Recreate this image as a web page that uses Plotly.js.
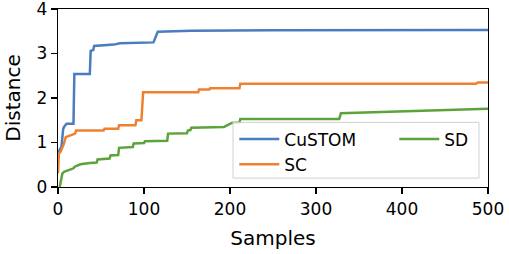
<!DOCTYPE html>
<html>
<head>
<meta charset="utf-8">
<script src="https://cdn.plot.ly/plotly-3.0.1.min.js"></script>
<style>html,body{margin:0;padding:0;background:#fff;}#chart{width:509px;height:254px;}</style>
</head>
<body>
<div id="chart"></div>
<script>
// CuSTOM
const customX = [0, 2, 4, 6, 7, 10, 18, 19, 37, 38, 41, 42, 65, 72, 111, 116, 155, 250, 500];
const customY = [0.78, 0.83, 0.9, 1.3, 1.35, 1.42, 1.42, 2.54, 2.54, 3.06, 3.08, 3.17, 3.2, 3.23, 3.25, 3.49, 3.51, 3.52, 3.53];
// SC
const scX = [0, 1, 3, 7, 9, 14, 20, 21, 53, 54, 70, 71, 90, 91, 97, 99, 163, 164, 176, 177, 211, 212, 486, 488, 500];
const scY = [0.31, 0.75, 0.79, 0.98, 1.12, 1.16, 1.2, 1.27, 1.27, 1.31, 1.31, 1.39, 1.39, 1.5, 1.5, 2.13, 2.13, 2.19, 2.19, 2.22, 2.22, 2.32, 2.32, 2.35, 2.35];
// SD
const sdX = [2, 5, 7, 13, 18, 19, 26, 37, 45, 46, 60, 61, 70, 71, 87, 88, 100, 101, 127, 128, 150, 151, 154, 155, 193, 202, 211, 212, 327, 329, 378, 429, 500];
const sdY = [0, 0.3, 0.34, 0.38, 0.42, 0.45, 0.51, 0.54, 0.55, 0.62, 0.64, 0.71, 0.72, 0.88, 0.9, 0.98, 0.99, 1.03, 1.04, 1.2, 1.21, 1.27, 1.28, 1.33, 1.35, 1.44, 1.45, 1.53, 1.53, 1.66, 1.69, 1.72, 1.76];

const xTicks = [0, 100, 200, 300, 400, 500];
const yTicks = [0, 1, 2, 3, 4];

const tickFont = {family: 'DejaVu Sans', size: 17, color: '#000'};
const titleFont = {family: 'DejaVu Sans', size: 20, color: '#000'};
const legendFont = {family: 'DejaVu Sans', size: 17, color: '#000'};
const colors = {custom: '#4a7cc0', sc: '#ee8130', sd: '#5ca33c'};

const traces = [
  {x: customX, y: customY, name: 'CuSTOM', type: 'scatter', mode: 'lines',
   line: {color: colors.custom, width: 2.5}, legend: 'legend', legendgroup: 'a'},
  {x: scX, y: scY, name: 'SC', type: 'scatter', mode: 'lines',
   line: {color: colors.sc, width: 2.5}, legend: 'legend', legendgroup: 'b'},
  {x: sdX, y: sdY, name: 'SD', type: 'scatter', mode: 'lines',
   line: {color: colors.sd, width: 2.5}, legend: 'legend2', legendgroup: 'c'}
];

const axisCommon = {
  showgrid: false, zeroline: false, showline: true, mirror: true,
  linecolor: '#000', linewidth: 1.3, ticks: 'outside', ticklen: 6, tickwidth: 1.3,
  tickcolor: '#000', tickfont: tickFont, ticklabeloverflow: 'allow'
};

const legendCommon = {
  bgcolor: 'rgba(0,0,0,0)', borderwidth: 0, font: legendFont,
  xref: 'paper', yref: 'paper', xanchor: 'left', yanchor: 'top',
  traceorder: 'grouped', tracegroupgap: 0, itemwidth: 40
};

const layout = {
  width: 509, height: 254,
  margin: {l: 58, r: 21, t: 9, b: 67},
  paper_bgcolor: '#fff', plot_bgcolor: '#fff',
  font: tickFont,
  showlegend: true,
  xaxis: Object.assign({}, axisCommon, {
    range: [0, 500], tickvals: xTicks,
    title: {text: 'Samples', font: titleFont, standoff: 13}
  }),
  yaxis: Object.assign({}, axisCommon, {
    range: [0, 4], tickvals: yTicks,
    title: {text: 'Distance', font: titleFont, standoff: 10}
  }),
  legend: Object.assign({}, legendCommon, {x: 0.41, y: 0.368}),
  legend2: Object.assign({}, legendCommon, {x: 0.782, y: 0.368}),
  shapes: [{
    type: 'rect', xref: 'paper', yref: 'paper', layer: 'above',
    x0: 0.407, x1: 0.979, y0: 0.05, y1: 0.363,
    fillcolor: 'rgba(255,255,255,0.8)', line: {color: '#d0d0d0', width: 1}
  }]
};

Plotly.newPlot('chart', traces, layout, {displayModeBar: false, staticPlot: true});
</script>
</body>
</html>
